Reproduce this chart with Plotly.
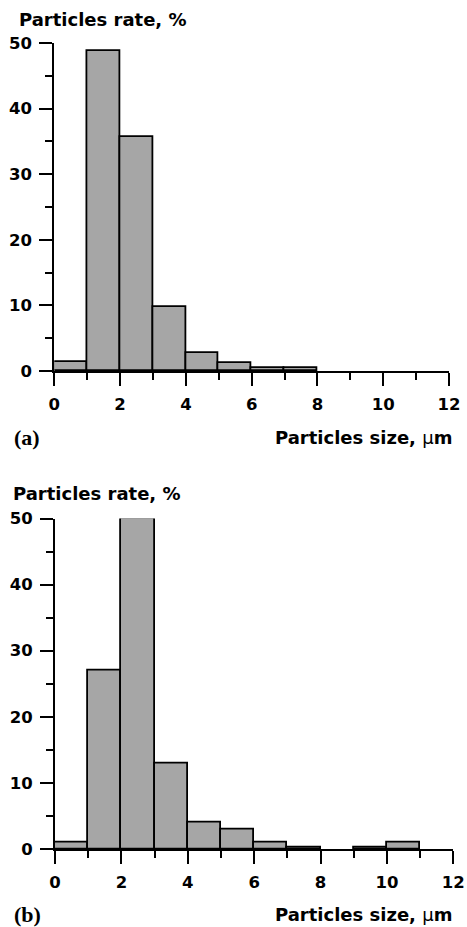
import plotly.graph_objects as go

# ---- data ----
bin_left_edges = [0, 1, 2, 3, 4, 5, 6, 7, 8, 9, 10, 11]
rate_a = [1.3, 48.8, 35.6, 9.7, 2.7, 1.2, 0.4, 0.4, 0, 0, 0, 0]
rate_b = [1.0, 27.0, 50.0, 12.9, 4.0, 2.9, 1.0, 0.3, 0, 0.3, 1.0, 0]
x_tick_values = [0, 2, 4, 6, 8, 10, 12]
y_tick_values = [0, 10, 20, 30, 40, 50]
y_label = "Particles rate, %"
x_label = "Particles size, <span style='font-weight:normal'>μ</span>m"
panel_labels = ["(a)", "(b)"]

W, H = 467, 927
centers = [e + 0.5 for e in bin_left_edges]

BAR_FILL = "#a6a6a6"
SANS = "DejaVu Sans"
SERIF = "Liberation Serif"

fig = go.Figure()
for vals, xa, ya in [(rate_a, "x", "y"), (rate_b, "x2", "y2")]:
    fig.add_trace(go.Bar(
        x=centers, y=[v if v > 0 else None for v in vals], width=1,
        marker=dict(color=BAR_FILL, line=dict(color="black", width=1.8)),
        xaxis=xa, yaxis=ya, cliponaxis=False, showlegend=False,
        hoverinfo="x+y",
    ))


def px_x(p):
    return p / W


def px_y(p):
    return 1 - p / H


tickfont = dict(family=SANS, size=16.5, color="black", weight="bold")
common_x = dict(
    range=[0, 12], tickmode="array", tickvals=x_tick_values,
    showline=True, linecolor="black", linewidth=2,
    ticks="outside", ticklen=13, tickwidth=2, tickcolor="black",
    minor=dict(tickvals=[1, 3, 5, 7, 9, 11], ticks="outside", ticklen=7,
               tickwidth=2, tickcolor="black", showgrid=False),
    showgrid=False, zeroline=False, tickfont=tickfont,
    ticklabelstandoff=4, fixedrange=True, automargin=False,
)
common_y = dict(
    range=[0, 50], tickmode="array", tickvals=y_tick_values,
    showline=True, linecolor="black", linewidth=2,
    ticks="outside", ticklen=13, tickwidth=2, tickcolor="black",
    minor=dict(tickvals=[5, 15, 25, 35, 45], ticks="outside", ticklen=7,
               tickwidth=2, tickcolor="black", showgrid=False),
    showgrid=False, zeroline=False, tickfont=tickfont,
    ticklabelstandoff=4, fixedrange=True, automargin=False,
)

fig.update_layout(
    width=W, height=H, margin=dict(l=0, r=0, t=0, b=0, pad=0), autosize=False,
    paper_bgcolor="white", plot_bgcolor="white", bargap=0,
    xaxis=dict(common_x, domain=[px_x(54.3), px_x(449)], anchor="y"),
    yaxis=dict(common_y, domain=[px_y(371), px_y(43)], anchor="x"),
    xaxis2=dict(common_x, domain=[px_x(55), px_x(453.3)], anchor="y2"),
    yaxis2=dict(common_y, domain=[px_y(849), px_y(518.5)], anchor="x2"),
)

titlefont = dict(family=SANS, size=18, color="black", weight="bold")
serif = dict(family=SERIF, size=22, color="black", weight="bold")
ann = []
for (ty, lx, ly, xr, panel) in [(19, 17, 438, 454, panel_labels[0]),
                                  (494, 11, 914, 454, panel_labels[1])]:
    ann.append(dict(text=y_label, x=px_x(lx), y=px_y(ty), xref="paper", yref="paper",
                    xanchor="left", yanchor="middle", showarrow=False, font=titlefont))
    ann.append(dict(text=panel, x=px_x(12), y=px_y(ly), xref="paper", yref="paper",
                    xanchor="left", yanchor="middle", showarrow=False, font=serif))
    ann.append(dict(text=x_label, x=px_x(xr), y=px_y(ly), xref="paper", yref="paper",
                    xanchor="right", yanchor="middle", showarrow=False, font=titlefont))
fig.update_layout(annotations=ann)

fig.write_html(
    "out.html",
    config={"displayModeBar": False},
    post_script="document.body.style.margin='0';document.body.style.overflow='hidden';",
)
